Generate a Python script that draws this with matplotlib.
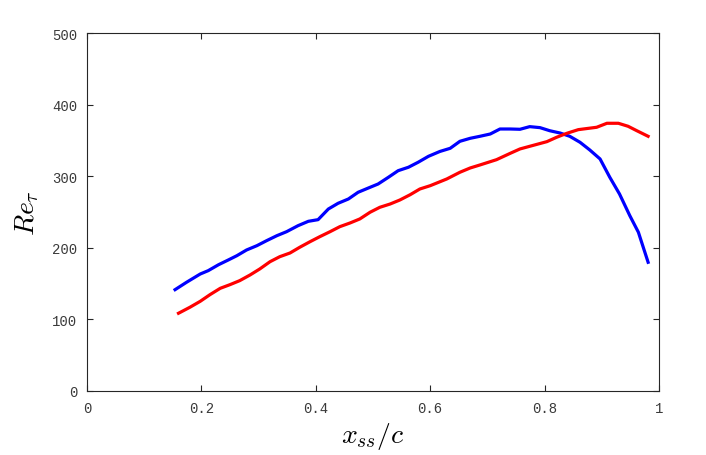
import matplotlib.pyplot as plt

plt.rcParams['mathtext.fontset'] = 'cm'

# blue curve
x_blue = [0.154, 0.174, 0.198, 0.212, 0.230, 0.247, 0.262, 0.279, 0.297, 0.314,
          0.332, 0.349, 0.369, 0.387, 0.404, 0.422, 0.439, 0.457, 0.474, 0.492,
          0.509, 0.527, 0.544, 0.562, 0.579, 0.597, 0.617, 0.635, 0.652, 0.670,
          0.687, 0.705, 0.722, 0.740, 0.757, 0.774, 0.792, 0.809, 0.827, 0.844,
          0.862, 0.879, 0.897, 0.914, 0.931, 0.949, 0.964, 0.981]
re_blue = [141.7, 152.0, 163.6, 168.3, 176.6, 183.2, 189.2, 197.2, 203.2, 210.2,
           217.2, 222.8, 231.2, 237.3, 239.6, 254.5, 262.5, 268.5, 277.9, 283.9,
           289.5, 298.9, 308.1, 312.9, 319.9, 328.2, 335.0, 339.4, 349.2, 353.4,
           356.2, 359.4, 366.4, 366.4, 366.0, 369.7, 368.3, 364.0, 360.8, 356.2,
           347.8, 337.1, 324.5, 298.9, 275.5, 245.2, 222.0, 180.0]

# red curve
x_red = [0.160, 0.180, 0.198, 0.215, 0.233, 0.250, 0.267, 0.285, 0.302, 0.320,
         0.337, 0.355, 0.372, 0.390, 0.407, 0.425, 0.442, 0.460, 0.477, 0.495,
         0.512, 0.530, 0.547, 0.565, 0.582, 0.600, 0.629, 0.652, 0.670, 0.687,
         0.716, 0.740, 0.757, 0.774, 0.804, 0.821, 0.839, 0.859, 0.891, 0.909,
         0.929, 0.946, 0.961, 0.981]
re_red = [108.7, 117.1, 125.4, 134.7, 143.6, 148.7, 154.3, 162.2, 170.6, 180.8,
          187.8, 193.0, 201.0, 208.8, 215.8, 222.8, 229.8, 235.0, 240.6, 250.0,
          256.9, 261.5, 267.1, 274.5, 282.5, 287.1, 296.5, 305.9, 311.9, 316.1,
          323.5, 332.4, 338.5, 342.2, 348.7, 354.8, 360.4, 365.5, 368.8, 374.4,
          374.4, 370.2, 364.1, 356.2]

xticks = [0, 0.2, 0.4, 0.6, 0.8, 1]
xtick_labels = ['0', '0.2', '0.4', '0.6', '0.8', '1']
yticks = [0, 100, 200, 300, 400, 500]

fig = plt.figure(figsize=(7.06, 4.56), dpi=100)
ax = fig.add_axes([0.1232, 0.1404, 0.8102, 0.784])

ax.plot(x_blue, re_blue, color='#0000ff', lw=2.3)
ax.plot(x_red, re_red, color='#ff0000', lw=2.3)

ax.set_xlim(0, 1)
ax.set_ylim(0, 500)
ax.set_xticks(xticks)
ax.set_xticklabels(xtick_labels)
ax.set_yticks(yticks)

grey = '#262626'
for s in ax.spines.values():
    s.set_color(grey)
    s.set_linewidth(0.8)
ax.tick_params(direction='in', top=True, right=True, length=4.5, width=0.8,
               color=grey, labelcolor='#3a3a3a', labelsize=10)
ax.tick_params(axis='x', pad=7)
ax.tick_params(axis='y', pad=7)
for lab in ax.get_xticklabels() + ax.get_yticklabels():
    lab.set_family('Liberation Mono')

ax.set_xlabel(r'$x_{ss}/c$', fontsize=20, labelpad=4)
ax.set_ylabel(r'$Re_\tau$', fontsize=20, labelpad=8)

fig.savefig('out.png', dpi=100)
